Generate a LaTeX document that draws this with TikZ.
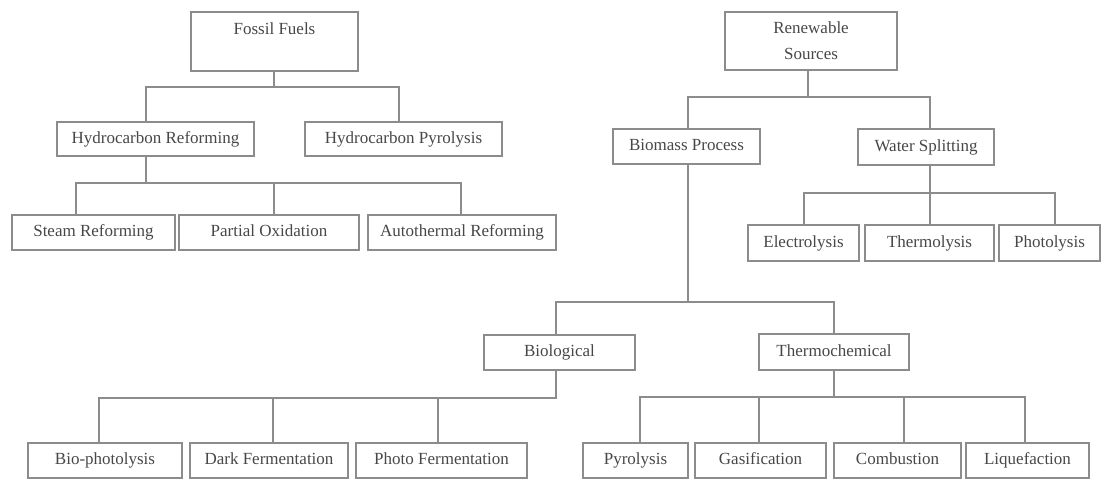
\documentclass[tikz,border=0pt]{standalone}
\usepackage{fontspec}
\setmainfont{Liberation Serif}
\usepackage{xcolor}
\usetikzlibrary{positioning}
\colorlet{linegray}{black!45}
\colorlet{textgray}{black!72}

\begin{document}
\begin{tikzpicture}[x=1pt,y=-1pt,
  blk/.style={draw=linegray,line width=1.3pt,inner sep=0pt,text=textgray,
    font=\fontsize{17}{26}\selectfont,align=center,text height=12,text depth=4},
  cn/.style={draw=linegray,line width=1.3pt}]
\useasboundingbox (0,0) rectangle (1102,479);

%sources
\node[blk,text height={},text depth={},minimum width=167,minimum height=59] (ff) at (274.5,41.5) {Fossil Fuels\\ \mbox{}};
\node[blk,text height={},text depth={},minimum width=172,minimum height=58] (rs) at (811,41) {Renewable\\ Sources};

%fossil fuels
\node[blk,minimum width=197,minimum height=34] (hr) at (155.5,139) {Hydrocarbon Reforming};
\node[blk,minimum width=197,minimum height=34] (hp) at (403.5,139) {Hydrocarbon Pyrolysis};
\foreach \nm/\cx/\w/\txt in {sr/93.5/163/Steam Reforming,po/269/180/Partial Oxidation,ar/462/188/Autothermal Reforming}{%
\node[blk,minimum width=\w,minimum height=35] (\nm) at (\cx,232.5) {\txt};
}

%renewable sources
\node[blk,minimum width=147,minimum height=35] (bp) at (686.5,146.5) {Biomass Process};
\node[blk,minimum width=136,minimum height=36] (ws) at (926,147) {Water Splitting};
\foreach \nm/\cx/\w/\txt in {el/803.5/111/Electrolysis,tl/929.5/129/Thermolysis,pl/1049.5/101/Photolysis}{%
\node[blk,minimum width=\w,minimum height=36] (\nm) at (\cx,243) {\txt};
}

%biomass
\node[blk,minimum width=151,minimum height=35] (bio) at (559.5,352.5) {Biological};
\node[blk,minimum width=150,minimum height=36] (tc) at (834,352) {Thermochemical};
\foreach \nm/\cx/\w/\txt in {bph/105/154/Bio-photolysis,df/269/158/Dark Fermentation,pf/441.5/171/Photo Fermentation,
  py/635.5/105/Pyrolysis,ga/760.5/131/Gasification,co/897.5/127/Combustion,lq/1027.5/123/Liquefaction}{%
\node[blk,minimum width=\w,minimum height=35] (\nm) at (\cx,460.5) {\txt};
}

%fossil fuels
\draw[cn] (ff.south -| 274,0) -- (274,87);
\draw[cn] (hr.north -| 146,0) |- (399,87) -- (hp.north -| 399,0);
%hydrocarbon reforming
\draw[cn] (hr.south -| 146,0) -- (146,183);
\draw[cn] (sr.north -| 76,0) |- (461,183) -- (ar.north -| 461,0);
\draw[cn] (po.north -| 274,0) -- (274,183);

%renewable sources
\draw[cn] (rs.south -| 808,0) -- (808,97);
\draw[cn] (bp.north -| 688,0) |- (930,97) -- (ws.north -| 930,0);
%water splitting
\draw[cn] (ws.south -| 930,0) -- (930,193);
\draw[cn] (el.north -| 804,0) |- (1055,193) -- (pl.north -| 1055,0);
\draw[cn] (tl.north -| 930,0) -- (930,193);

%biomass
\draw[cn] (bp.south -| 688,0) -- (688,302);
\draw[cn] (bio.north -| 556,0) |- (834,302) -- (tc.north -| 834,0);
%biological
\draw[cn] (bio.south -| 556,0) |- (99,398) -- (bph.north -| 99,0);
\foreach \nm/\dx in {df/273,pf/438}{%
\draw[cn] (\nm.north -| \dx,0) -- (\dx,398);
}
%thermochemical
\draw[cn] (tc.south -| 834,0) -- (834,397);
\draw[cn] (py.north -| 640,0) |- (1025,397) -- (lq.north -| 1025,0);
\foreach \nm/\dx in {ga/759,co/904}{%
\draw[cn] (\nm.north -| \dx,0) -- (\dx,397);
}

\end{tikzpicture}
\end{document}
